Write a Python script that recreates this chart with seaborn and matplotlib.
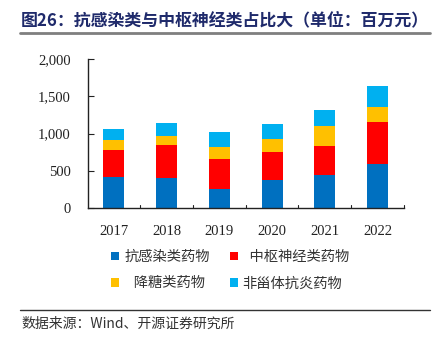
import matplotlib
matplotlib.use("Agg")
import matplotlib.pyplot as plt
from matplotlib.patches import Patch
from matplotlib.lines import Line2D
import numpy as np
import pandas as pd
import seaborn as sns

# 数据（单位：百万元）
years = ["2017", "2018", "2019", "2020", "2021", "2022"]
anti_infective = [424, 402, 255, 375, 450, 594]
cns = [362, 443, 406, 384, 389, 559]
antidiabetic = [126, 128, 161, 170, 260, 201]
nsaid = [151, 174, 197, 201, 219, 289]

series_names = ["抗感染类药物", "中枢神经类药物", "降糖类药物", "非甾体抗炎药物"]
legend_labels = ["抗感染类药物", "  中枢神经类药物", "   降糖类药物", "非甾体抗炎药物"]
colors = ["#0070C0", "#FF0000", "#FFC000", "#00B0F0"]
y_ticks = [0, 500, 1000, 1500, 2000]

sns.set_theme(style="white")
cjk = ["Noto Sans CJK SC", "DejaVu Sans"]
serif = ["Liberation Serif", "DejaVu Serif"]
plt.rcParams["font.family"] = cjk

df = pd.DataFrame({"year": years})
for name, vals in zip(series_names, [anti_infective, cns, antidiabetic, nsaid]):
    df[name] = vals

fig = plt.figure(figsize=(4.38, 3.44), dpi=100)
ax = fig.add_axes([0.200, 0.3945, 0.722, 0.434])

# 逐层堆叠绘制
bottom = np.zeros(len(years))
for name, color in zip(series_names, colors):
    sns.barplot(data=df, x="year", y=name, color=color, width=0.4,
                bottom=bottom, ax=ax, saturation=1, linewidth=0)
    bottom = bottom + df[name].to_numpy()

ax.set_ylim(0, 2000)
ax.set_xlim(-0.5, len(years) - 0.5)
ax.set_yticks(y_ticks)
ax.set_yticklabels([f"{v:,}" for v in y_ticks], fontfamily=serif, fontsize=10.5)
ax.set_xticks(range(len(years)))
ax.set_xticklabels(years, fontfamily=serif, fontsize=10.5)
ax.set_xlabel("")
ax.set_ylabel("")

for side in ["top", "right"]:
    ax.spines[side].set_visible(False)
for side in ["left", "bottom"]:
    ax.spines[side].set_color("#222222")
    ax.spines[side].set_linewidth(1.0)

ax.tick_params(axis="y", direction="in", length=4, width=0.8, color="#222222",
               left=True, pad=12, labelcolor="#222222")
ax.tick_params(axis="x", bottom=False, pad=6, labelcolor="#222222")
# 类别分隔刻度
for b in np.arange(0.5, len(years) - 0.4, 1.0):
    ax.plot([b, b], [0, 45], color="#222222", lw=0.8, clip_on=False)

# 图例（两行两列，按行排列）
order = [0, 2, 1, 3]
handles = [Patch(facecolor=colors[i], edgecolor="none") for i in order]
labels = [legend_labels[i] for i in order]
leg = fig.legend(handles, labels, ncol=2, loc="upper left",
                 bbox_to_anchor=(0.225, 0.31), frameon=False,
                 handlelength=0.55, handleheight=0.55, handletextpad=0.35,
                 columnspacing=1.4, labelspacing=0.85,
                 prop={"family": cjk, "size": 10.3})
for t in leg.get_texts():
    t.set_color("#333333")

# 标题与横线
fig.text(0.048, 0.942, "图26：抗感染类与中枢神经类占比大（单位：百万元）",
         fontsize=12.2, fontweight="bold", color="#1F2A6B", va="center",
         family=cjk)
fig.add_artist(Line2D([0.046, 0.982], [0.905, 0.905], color="#7F7F7F",
                      lw=2.0, transform=fig.transFigure))

# 数据来源
fig.add_artist(Line2D([0.046, 0.982], [0.099, 0.099], color="#333333",
                      lw=1.0, transform=fig.transFigure))
fig.text(0.048, 0.060, "数据来源：Wind、开源证券研究所", fontsize=10,
         color="#333333", va="center", family=cjk)

fig.savefig("out.png", dpi=100, facecolor="white")
